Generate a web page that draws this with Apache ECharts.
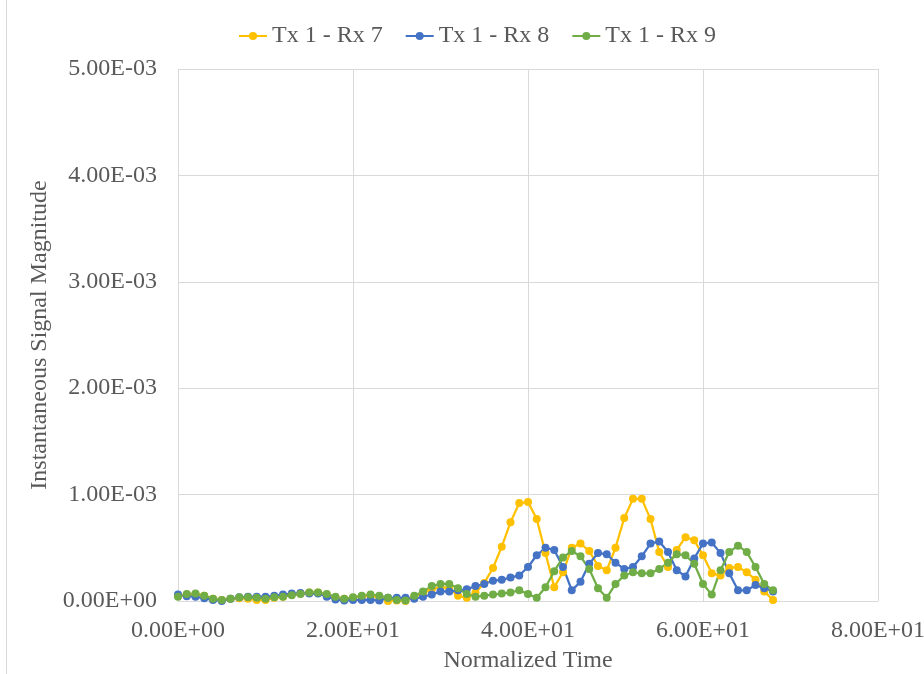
<!DOCTYPE html>
<html>
<head>
<meta charset="utf-8">
<title>Instantaneous Signal Magnitude</title>
<script src="https://cdn.jsdelivr.net/npm/echarts@6/dist/echarts.min.js"></script>
<style>
  html, body { margin: 0; padding: 0; background: #fff; }
  #main { width: 924px; height: 674px; }
</style>
</head>
<body>
<div id="main"></div>
<script>
// normalized time samples 0..68
var times = [];
for (var t = 0; t <= 68; t++) times.push(t);

var seriesNames = ['Tx 1 - Rx 7', 'Tx 1 - Rx 8', 'Tx 1 - Rx 9'];
var xTicks = [0, 20, 40, 60, 80];
var yTicks = [0, 1e-3, 2e-3, 3e-3, 4e-3, 5e-3];

var rx7 = [
  0.5e-4, 0.6e-4, 0.6e-4, 0.5e-4, 0.2e-4, 0.1e-4, 0.2e-4, 0.25e-4, 0.2e-4, 0.1e-4,
  0.1e-4, 0.3e-4, 0.4e-4, 0.6e-4, 0.7e-4, 0.8e-4, 0.8e-4, 0.6e-4, 0.3e-4, 0.2e-4,
  0.3e-4, 0.4e-4, 0.5e-4, 0.3e-4, 0.0, 0.05e-4, 0.0, 0.4e-4, 0.7e-4, 1.1e-4,
  1.3e-4, 1.2e-4, 0.5e-4, 0.3e-4, 0.8e-4, 1.7e-4, 3.1e-4, 5.1e-4, 7.4e-4, 9.2e-4,
  9.3e-4, 7.7e-4, 4.5e-4, 1.3e-4, 2.7e-4, 5.0e-4, 5.4e-4, 4.7e-4, 3.3e-4, 2.9e-4,
  5.0e-4, 7.8e-4, 9.6e-4, 9.6e-4, 7.7e-4, 4.6e-4, 3.2e-4, 4.8e-4, 6.0e-4, 5.7e-4,
  4.3e-4, 2.6e-4, 2.4e-4, 3.1e-4, 3.2e-4, 2.7e-4, 2.0e-4, 0.9e-4, 0.1e-4
];
var rx8 = [
  0.6e-4, 0.45e-4, 0.4e-4, 0.25e-4, 0.1e-4, 0.0, 0.2e-4, 0.35e-4, 0.4e-4, 0.4e-4,
  0.4e-4, 0.5e-4, 0.6e-4, 0.7e-4, 0.75e-4, 0.7e-4, 0.7e-4, 0.4e-4, 0.15e-4, 0.05e-4,
  0.1e-4, 0.1e-4, 0.1e-4, 0.05e-4, 0.3e-4, 0.3e-4, 0.3e-4, 0.2e-4, 0.4e-4, 0.6e-4,
  0.9e-4, 0.9e-4, 1.0e-4, 1.1e-4, 1.4e-4, 1.6e-4, 1.9e-4, 2.0e-4, 2.2e-4, 2.4e-4,
  3.2e-4, 4.3e-4, 5.0e-4, 4.8e-4, 3.2e-4, 1.0e-4, 1.8e-4, 3.5e-4, 4.5e-4, 4.4e-4,
  3.6e-4, 3.0e-4, 3.2e-4, 4.2e-4, 5.4e-4, 5.6e-4, 4.6e-4, 2.9e-4, 2.3e-4, 4.0e-4,
  5.4e-4, 5.5e-4, 4.5e-4, 2.6e-4, 1.0e-4, 1.0e-4, 1.5e-4, 1.2e-4, 0.9e-4
];
var rx9 = [
  0.4e-4, 0.65e-4, 0.7e-4, 0.5e-4, 0.2e-4, 0.1e-4, 0.2e-4, 0.35e-4, 0.35e-4, 0.3e-4,
  0.2e-4, 0.35e-4, 0.4e-4, 0.55e-4, 0.65e-4, 0.8e-4, 0.8e-4, 0.65e-4, 0.4e-4, 0.2e-4,
  0.35e-4, 0.5e-4, 0.6e-4, 0.5e-4, 0.3e-4, 0.1e-4, 0.05e-4, 0.5e-4, 0.9e-4, 1.4e-4,
  1.6e-4, 1.6e-4, 1.2e-4, 0.65e-4, 0.4e-4, 0.5e-4, 0.6e-4, 0.7e-4, 0.8e-4, 1.0e-4,
  0.65e-4, 0.3e-4, 1.3e-4, 2.8e-4, 4.1e-4, 4.7e-4, 4.2e-4, 3.0e-4, 1.2e-4, 0.3e-4,
  1.6e-4, 2.4e-4, 2.7e-4, 2.6e-4, 2.6e-4, 3.0e-4, 3.6e-4, 4.4e-4, 4.3e-4, 3.5e-4,
  1.6e-4, 0.6e-4, 2.9e-4, 4.6e-4, 5.2e-4, 4.6e-4, 3.2e-4, 1.6e-4, 1.0e-4
];

var colors = ['#FFC000', '#4472C4', '#70AD47'];
var allData = [rx7, rx8, rx9];

// Excel style scientific label: 5.00E-03
function sci(v) {
  var s = Number(v).toExponential(2).toUpperCase();
  var parts = s.split('E');
  var exp = parseInt(parts[1], 10);
  var sign = exp < 0 ? '-' : '+';
  var e = Math.abs(exp);
  return parts[0] + 'E' + sign + (e < 10 ? '0' + e : e);
}

function pairs(arr) {
  var out = [];
  for (var i = 0; i < arr.length; i++) out.push([times[i], arr[i]]);
  return out;
}

var font = 'Liberation Serif';
var myChart = echarts.init(document.getElementById('main'), null, {renderer: 'canvas'});

var option = {
  animation: false,
  color: colors,
  textStyle: { fontFamily: font },
  legend: {
    top: 19,
    left: 233,
    itemWidth: 28,
    itemHeight: 10,
    itemGap: 22,
    textStyle: { fontFamily: font, fontSize: 24, color: '#595959' },
    data: seriesNames
  },
  grid: { left: 178, right: 46, top: 69, bottom: 73, outerBoundsMode: 'none' },
  xAxis: {
    type: 'value',
    min: xTicks[0],
    max: xTicks[xTicks.length - 1],
    interval: 20,
    name: 'Normalized Time',
    nameLocation: 'middle',
    nameGap: 48,
    nameTextStyle: { fontFamily: font, fontSize: 24, color: '#595959' },
    axisLine: { show: true, lineStyle: { color: '#d9d9d9', width: 1 } },
    axisTick: { show: false },
    axisLabel: { fontFamily: font, fontSize: 24, color: '#595959', margin: 18, formatter: sci },
    splitLine: { show: true, lineStyle: { color: '#d9d9d9', width: 1 } }
  },
  yAxis: {
    type: 'value',
    min: yTicks[0],
    max: yTicks[yTicks.length - 1],
    interval: 1e-3,
    name: 'Instantaneous Signal Magnitude',
    nameLocation: 'middle',
    nameGap: 121,
    nameRotate: 90,
    nameTextStyle: { fontFamily: font, fontSize: 24, color: '#595959' },
    axisLine: { show: false },
    axisTick: { show: false },
    axisLabel: { fontFamily: font, fontSize: 24, color: '#595959', margin: 21, formatter: sci },
    splitLine: { show: true, lineStyle: { color: '#d9d9d9', width: 1 } }
  },
  graphic: [{
    type: 'line',
    shape: { x1: 6.5, y1: 0, x2: 6.5, y2: 674 },
    style: { stroke: '#d9d9d9', lineWidth: 1 }
  }],
  series: seriesNames.map(function (name, k) {
    return {
      name: name,
      type: 'line',
      data: pairs(allData[k]),
      symbol: 'circle',
      symbolSize: 8,
      showAllSymbol: true,
      lineStyle: { width: 2.25, color: colors[k] },
      itemStyle: { color: colors[k] }
    };
  })
};

myChart.setOption(option);
</script>
</body>
</html>
